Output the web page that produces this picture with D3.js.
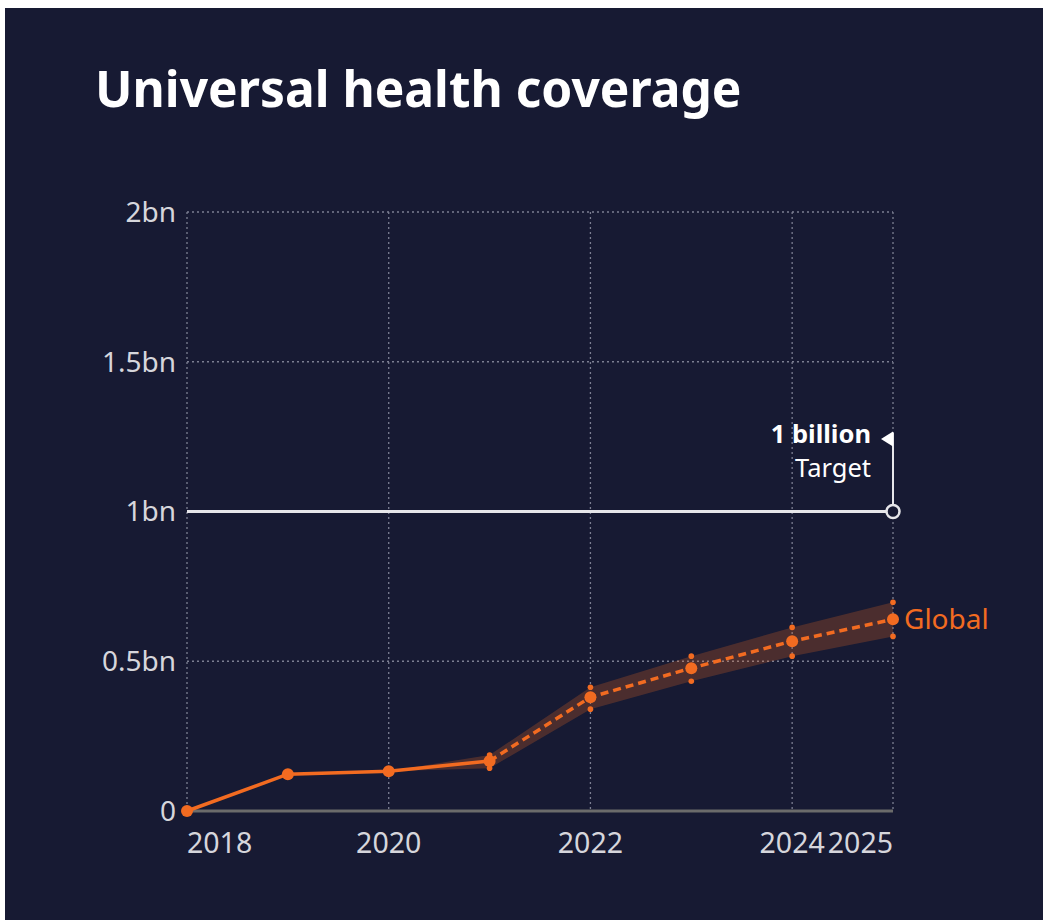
<!DOCTYPE html>
<html>
<head>
<meta charset="utf-8">
<script src="https://cdn.jsdelivr.net/npm/d3@7"></script>
<style>
  body { margin: 0; background: #fff; }
  text { font-family: "Noto Sans", sans-serif; }
</style>
</head>
<body>
<div id="chart"></div>
<script>
// data
var years = [2018, 2019, 2020, 2021, 2022, 2023, 2024, 2025];
var values = [0, 0.123, 0.133, 0.167, 0.38, 0.477, 0.567, 0.64];   // billions
var bandYears = [2020, 2021, 2022, 2023, 2024, 2025];
var bandLower = [0.133, 0.143, 0.34, 0.433, 0.517, 0.583];
var bandUpper = [0.133, 0.187, 0.413, 0.517, 0.613, 0.697];
var boundYears = [2021, 2022, 2023, 2024, 2025];
var xTicks = [2018, 2020, 2022, 2024, 2025];
var yTicks = [0, 0.5, 1, 1.5, 2];
var yTickLabels = ["0", "0.5bn", "1bn", "1.5bn", "2bn"];
var target = 1;
var projectedFrom = 2021;

var W = 1043, H = 920;
var margin = {top: 212, right: 150, bottom: 109, left: 187};
var width = W - margin.left - margin.right;
var height = H - margin.top - margin.bottom;
var orange = "#f26b21";

var svg = d3.select("#chart").append("svg")
    .attr("width", W)
    .attr("height", H);

// dark panel
svg.append("rect")
    .attr("x", 5).attr("y", 8)
    .attr("width", W - 5).attr("height", H - 8)
    .attr("fill", "#171a33");

svg.append("text")
    .attr("x", 95).attr("y", 107)
    .attr("fill", "#fff")
    .attr("font-size", 49.7)
    .attr("font-weight", 700)
    .text("Universal health coverage");

var g = svg.append("g")
    .attr("transform", "translate(" + margin.left + "," + margin.top + ")");

var x = d3.scaleLinear().domain([2018, 2025]).range([0, width]);
var y = d3.scaleLinear().domain([0, 2]).range([height, 0]);

// grid
g.selectAll(".vgrid").data(xTicks).enter().append("line")
    .attr("x1", function(d) { return x(d); })
    .attr("x2", function(d) { return x(d); })
    .attr("y1", 0).attr("y2", height)
    .attr("stroke", "#7c7f92").attr("stroke-width", 1.3)
    .attr("stroke-dasharray", "2,3");

g.selectAll(".hgrid").data(yTicks.slice(1)).enter().append("line")
    .attr("x1", 0).attr("x2", width)
    .attr("y1", function(d) { return y(d); })
    .attr("y2", function(d) { return y(d); })
    .attr("stroke", "#7c7f92").attr("stroke-width", 1.3)
    .attr("stroke-dasharray", "2,3");

// baseline
g.append("line")
    .attr("x1", 0).attr("x2", width)
    .attr("y1", y(0)).attr("y2", y(0))
    .attr("stroke", "#6b6b6b").attr("stroke-width", 3);

// y labels
g.selectAll(".ylab").data(yTicks).enter().append("text")
    .attr("x", -11)
    .attr("y", function(d) { return y(d); })
    .attr("dy", "0.35em")
    .attr("text-anchor", "end")
    .attr("fill", "#d6d6dc")
    .attr("font-size", 28)
    .text(function(d, i) { return yTickLabels[i]; });

// x labels
g.selectAll(".xlab").data(xTicks).enter().append("text")
    .attr("x", function(d) { return x(d); })
    .attr("y", height + 42)
    .attr("text-anchor", function(d, i) {
        return i === 0 ? "start" : (i === xTicks.length - 1 ? "end" : "middle");
    })
    .attr("fill", "#d6d6dc")
    .attr("font-size", 28.5)
    .text(function(d) { return d; });

// target line
g.append("line")
    .attr("x1", 0).attr("x2", x(2025))
    .attr("y1", y(target)).attr("y2", y(target))
    .attr("stroke", "#e6e6ea").attr("stroke-width", 3);

g.append("line")
    .attr("x1", x(2025)).attr("x2", x(2025))
    .attr("y1", y(target)).attr("y2", y(target) - 79)
    .attr("stroke", "#e6e6ea").attr("stroke-width", 2);

g.append("path")
    .attr("d", "M" + x(2025) + "," + (y(target) - 80) + " l-12,7.5 l12,7.5 Z")
    .attr("fill", "#fff");

g.append("text")
    .attr("x", x(2025) - 22).attr("y", y(target) - 69)
    .attr("text-anchor", "end")
    .attr("fill", "#fff").attr("font-size", 25.5).attr("font-weight", 700)
    .text("1 billion");

g.append("text")
    .attr("x", x(2025) - 22).attr("y", y(target) - 35)
    .attr("text-anchor", "end")
    .attr("fill", "#fff").attr("font-size", 25.5)
    .text("Target");

g.append("circle")
    .attr("cx", x(2025)).attr("cy", y(target)).attr("r", 6.5)
    .attr("fill", "#171a33")
    .attr("stroke", "#e6e6ea").attr("stroke-width", 2.5);

// uncertainty band
var bandData = bandYears.map(function(d, i) { return {year: d, lo: bandLower[i], hi: bandUpper[i]}; });
g.append("path")
    .datum(bandData)
    .attr("fill", orange).attr("fill-opacity", 0.24)
    .attr("d", d3.area()
        .x(function(d) { return x(d.year); })
        .y0(function(d) { return y(d.lo); })
        .y1(function(d) { return y(d.hi); }));

var pts = years.map(function(d, i) { return {year: d, v: values[i]}; });
var line = d3.line()
    .x(function(d) { return x(d.year); })
    .y(function(d) { return y(d.v); });

g.append("path")
    .datum(pts.filter(function(d) { return d.year <= projectedFrom; }))
    .attr("fill", "none").attr("stroke", orange).attr("stroke-width", 3.5)
    .attr("d", line);

g.append("path")
    .datum(pts.filter(function(d) { return d.year >= projectedFrom; }))
    .attr("fill", "none").attr("stroke", orange).attr("stroke-width", 3.5)
    .attr("stroke-dasharray", "8,5")
    .attr("d", line);

// bound dots
var bounds = [];
boundYears.forEach(function(yr) {
    var i = bandYears.indexOf(yr);
    bounds.push({year: yr, v: bandLower[i]});
    bounds.push({year: yr, v: bandUpper[i]});
});
g.selectAll(".bound").data(bounds).enter().append("circle")
    .attr("cx", function(d) { return x(d.year); })
    .attr("cy", function(d) { return y(d.v); })
    .attr("r", 2.8)
    .attr("fill", orange);

g.selectAll(".pt").data(pts).enter().append("circle")
    .attr("cx", function(d) { return x(d.year); })
    .attr("cy", function(d) { return y(d.v); })
    .attr("r", 6)
    .attr("fill", orange);

g.append("text")
    .attr("x", x(2025) + 11).attr("y", y(values[values.length - 1]))
    .attr("dy", "0.35em")
    .attr("fill", orange).attr("font-size", 28)
    .text("Global");
</script>
</body>
</html>
